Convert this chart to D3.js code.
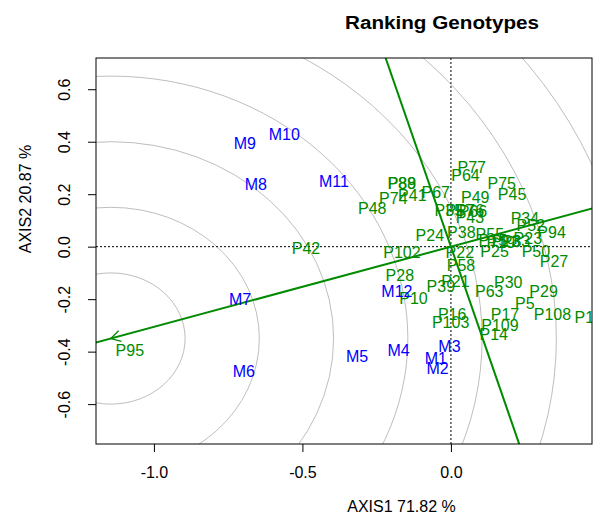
<!DOCTYPE html>
<html>
<head>
<meta charset="utf-8">
<script src="https://cdn.jsdelivr.net/npm/d3@7"></script>
<style>
  body { margin: 0; background: #fff; }
  text { font-family: "Liberation Sans", Arial, sans-serif; }
</style>
</head>
<body>
<div id="chart"></div>
<script>
// GGE biplot: ranking genotypes

const envNames = ["M1", "M2", "M3", "M4", "M5", "M6", "M7", "M8", "M9", "M10", "M11", "M12"];
const envX = [-0.051, -0.045, -0.005, -0.176, -0.316, -0.697, -0.710, -0.657, -0.694, -0.561, -0.394, -0.182];
const envY = [-0.427, -0.463, -0.378, -0.395, -0.419, -0.476, -0.199, 0.239, 0.395, 0.429, 0.248, -0.168];

const genNames = ["P95", "P42", "P48", "P74", "P88", "P89", "P41", "P67", "P24", "P38",
    "P35", "P57", "P76", "P66", "P43", "P49", "P77", "P64", "P75", "P45",
    "P34", "P52", "P94", "P23", "P33", "P55", "P15", "P13", "P19", "P25",
    "P50", "P27", "P22", "P58", "P102", "P28", "P10", "P39", "P21", "P30",
    "P63", "P29", "P5", "P17", "P108", "P104", "P16", "P103", "P109", "P14"];
const genX = [-1.081, -0.488, -0.265, -0.194, -0.166, -0.165, -0.130, -0.051, -0.071, 0.035,
    -0.007, 0.030, 0.064, 0.074, 0.064, 0.082, 0.070, 0.049, 0.171, 0.206,
    0.249, 0.269, 0.339, 0.259, 0.219, 0.131, 0.141, 0.185, 0.168, 0.147,
    0.286, 0.347, 0.030, 0.034, -0.165, -0.172, -0.126, -0.034, 0.015, 0.193,
    0.129, 0.312, 0.249, 0.182, 0.342, 0.479, 0.004, -0.001, 0.165, 0.144];
const genY = [-0.395, -0.005, 0.148, 0.186, 0.241, 0.240, 0.195, 0.206, 0.043, 0.054,
    0.138, 0.138, 0.138, 0.136, 0.114, 0.190, 0.303, 0.273, 0.240, 0.200,
    0.109, 0.082, 0.054, 0.033, 0.019, 0.048, 0.025, 0.020, 0.016, -0.016,
    -0.019, -0.054, -0.022, -0.070, -0.023, -0.109, -0.197, -0.149, -0.132, -0.135,
    -0.168, -0.168, -0.215, -0.256, -0.256, -0.270, -0.256, -0.288, -0.301, -0.332];

// average environment point (arrow tip, circle centre)
const aecX = -1.145, aecY = -0.350;
const radii = [0.25, 0.5, 0.75, 1.0, 1.25, 1.5, 1.75, 2.0];

const xTicks = [-1.0, -0.5, 0.0];
const yTicks = [-0.6, -0.4, -0.2, 0.0, 0.2, 0.4, 0.6];

(function() {
    const W = 594, H = 516;
    const m = {left: 96, right: 592, top: 58, bottom: 444};

    const x = d3.scaleLinear().domain([-1.195, 0.475]).range([m.left, m.right]);
    const y = d3.scaleLinear().domain([-0.752, 0.719]).range([m.bottom, m.top]);

    const svg = d3.select("#chart").append("svg")
        .attr("width", W)
        .attr("height", H);

    svg.append("defs").append("clipPath")
        .attr("id", "plotclip")
        .append("rect")
        .attr("x", m.left).attr("y", m.top)
        .attr("width", m.right - m.left).attr("height", m.bottom - m.top);

    const plot = svg.append("g").attr("clip-path", "url(#plotclip)");

    // concentric circles around the ideal point
    plot.selectAll("ellipse.ring")
        .data(radii)
        .enter()
        .append("ellipse")
        .attr("class", "ring")
        .attr("cx", x(aecX))
        .attr("cy", y(aecY))
        .attr("rx", r => x(r) - x(0))
        .attr("ry", r => y(0) - y(r))
        .attr("fill", "none")
        .attr("stroke", "#bebebe")
        .attr("stroke-width", 1);

    // dotted axes through origin
    plot.append("line")
        .attr("x1", m.left).attr("x2", m.right)
        .attr("y1", y(0)).attr("y2", y(0))
        .attr("stroke", "#000").attr("stroke-dasharray", "2,2");
    plot.append("line")
        .attr("x1", x(0)).attr("x2", x(0))
        .attr("y1", m.top).attr("y2", m.bottom)
        .attr("stroke", "#000").attr("stroke-dasharray", "2,2");

    // AEC abscissa and ordinate
    const slope = aecY / aecX;
    const green = "#008b00";
    plot.append("line")
        .attr("x1", x(-1.3)).attr("y1", y(-1.3 * slope))
        .attr("x2", x(0.6)).attr("y2", y(0.6 * slope))
        .attr("stroke", green).attr("stroke-width", 2);
    const perp = -1 / slope;
    plot.append("line")
        .attr("x1", x(0.9 / perp)).attr("y1", y(0.9))
        .attr("x2", x(-0.9 / perp)).attr("y2", y(-0.9))
        .attr("stroke", green).attr("stroke-width", 2);

    // arrow head at the ideal point
    const tipX = x(aecX), tipY = y(aecY);
    const ang = Math.atan2(tipY - y(0), tipX - x(0));
    [Math.PI / 6, -Math.PI / 6].forEach(a => {
        plot.append("line")
            .attr("x1", tipX).attr("y1", tipY)
            .attr("x2", tipX - 11 * Math.cos(ang + a))
            .attr("y2", tipY - 11 * Math.sin(ang + a))
            .attr("stroke", green).attr("stroke-width", 1.3);
    });

    // genotype labels
    plot.selectAll("text.gen")
        .data(genNames)
        .enter()
        .append("text")
        .attr("class", "gen")
        .attr("x", (d, i) => x(genX[i]))
        .attr("y", (d, i) => y(genY[i]))
        .attr("dy", "0.36em")
        .attr("text-anchor", "middle")
        .attr("font-size", 16)
        .attr("fill", green)
        .text(d => d);

    // environment labels
    plot.selectAll("text.env")
        .data(envNames)
        .enter()
        .append("text")
        .attr("class", "env")
        .attr("x", (d, i) => x(envX[i]))
        .attr("y", (d, i) => y(envY[i]))
        .attr("dy", "0.36em")
        .attr("text-anchor", "middle")
        .attr("font-size", 16)
        .attr("fill", "#0000ff")
        .text(d => d);

    // frame
    svg.append("rect")
        .attr("x", m.left).attr("y", m.top)
        .attr("width", m.right - m.left).attr("height", m.bottom - m.top)
        .attr("fill", "none").attr("stroke", "#000").attr("stroke-width", 1);

    // axes
    const xAxis = svg.append("g")
        .attr("transform", `translate(0,${m.bottom})`)
        .call(d3.axisBottom(x).tickValues(xTicks).tickSize(8).tickSizeOuter(0)
            .tickPadding(15).tickFormat(d => d.toFixed(1)));
    xAxis.select(".domain").remove();

    const yAxis = svg.append("g")
        .attr("transform", `translate(${m.left},0)`)
        .call(d3.axisLeft(y).tickValues(yTicks).tickSize(8).tickSizeOuter(0)
            .tickFormat(d => d.toFixed(1)));
    yAxis.select(".domain").remove();
    yAxis.selectAll(".tick text")
        .attr("transform", "rotate(-90)")
        .attr("x", 0)
        .attr("y", -32)
        .attr("dy", "0.36em")
        .attr("text-anchor", "middle");

    svg.selectAll(".tick text")
        .attr("font-size", 16)
        .attr("font-family", "Liberation Sans, Arial, sans-serif")
        .attr("fill", "#000");
    svg.selectAll(".tick line").attr("stroke", "#000");

    // axis titles
    svg.append("text")
        .attr("x", 401.5)
        .attr("y", 512)
        .attr("text-anchor", "middle")
        .attr("font-size", 16)
        .text("AXIS1 71.82 %");

    svg.append("text")
        .attr("transform", "rotate(-90)")
        .attr("x", -199)
        .attr("y", 25)
        .attr("dy", "0.36em")
        .attr("text-anchor", "middle")
        .attr("font-size", 16)
        .text("AXIS2 20.87 %");

    // title
    svg.append("text")
        .attr("x", 442)
        .attr("y", 29)
        .attr("text-anchor", "middle")
        .attr("font-size", 17.5)
        .attr("font-weight", "bold")
        .attr("textLength", 194)
        .attr("lengthAdjust", "spacingAndGlyphs")
        .text("Ranking Genotypes");
})();
</script>
</body>
</html>
